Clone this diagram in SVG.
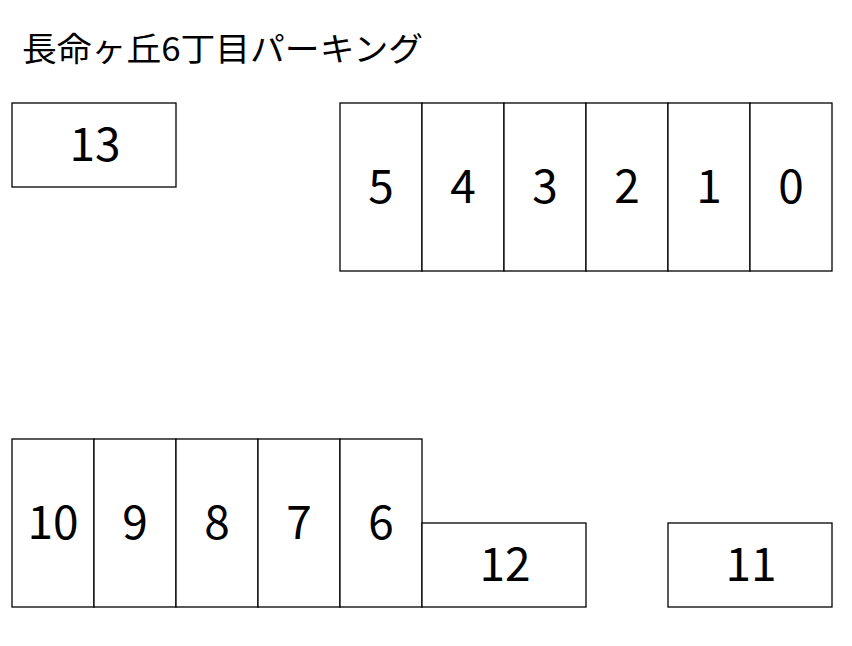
<svg xmlns="http://www.w3.org/2000/svg" width="852" height="646" viewBox="0 0 852 646">
<style>
.slot rect{fill:#fff;stroke:#000;stroke-width:1.3}
.slot text{font-family:"Noto Sans CJK JP","Noto Sans",sans-serif;font-size:46px;fill:#000;text-anchor:middle}
.title{font-family:"Noto Sans CJK JP","Noto Sans",sans-serif;font-size:33px;fill:#000}
</style>
<rect width="852" height="646" fill="#fff"/>
<text class="title" x="22" y="61" textLength="401" lengthAdjust="spacingAndGlyphs">長命ヶ丘6丁目パーキング</text>
<g id="slot13" class="slot"><rect x="12" y="103" width="164" height="84"/><text x="95" y="161">13</text></g>
<g id="slot5" class="slot"><rect x="340" y="103" width="82" height="168"/><text x="381" y="203">5</text></g>
<g id="slot4" class="slot"><rect x="422" y="103" width="82" height="168"/><text x="463" y="203">4</text></g>
<g id="slot3" class="slot"><rect x="504" y="103" width="82" height="168"/><text x="545" y="203">3</text></g>
<g id="slot2" class="slot"><rect x="586" y="103" width="82" height="168"/><text x="627" y="203">2</text></g>
<g id="slot1" class="slot"><rect x="668" y="103" width="82" height="168"/><text x="709" y="203">1</text></g>
<g id="slot0" class="slot"><rect x="750" y="103" width="82" height="168"/><text x="791" y="203">0</text></g>
<g id="slot10" class="slot"><rect x="12" y="439" width="82" height="168"/><text x="53" y="539">10</text></g>
<g id="slot9" class="slot"><rect x="94" y="439" width="82" height="168"/><text x="135" y="539">9</text></g>
<g id="slot8" class="slot"><rect x="176" y="439" width="82" height="168"/><text x="217" y="539">8</text></g>
<g id="slot7" class="slot"><rect x="258" y="439" width="82" height="168"/><text x="299" y="539">7</text></g>
<g id="slot6" class="slot"><rect x="340" y="439" width="82" height="168"/><text x="381" y="539">6</text></g>
<g id="slot12" class="slot"><rect x="422" y="523" width="164" height="84"/><text x="505" y="581">12</text></g>
<g id="slot11" class="slot"><rect x="668" y="523" width="164" height="84"/><text x="751" y="581">11</text></g>
</svg>
